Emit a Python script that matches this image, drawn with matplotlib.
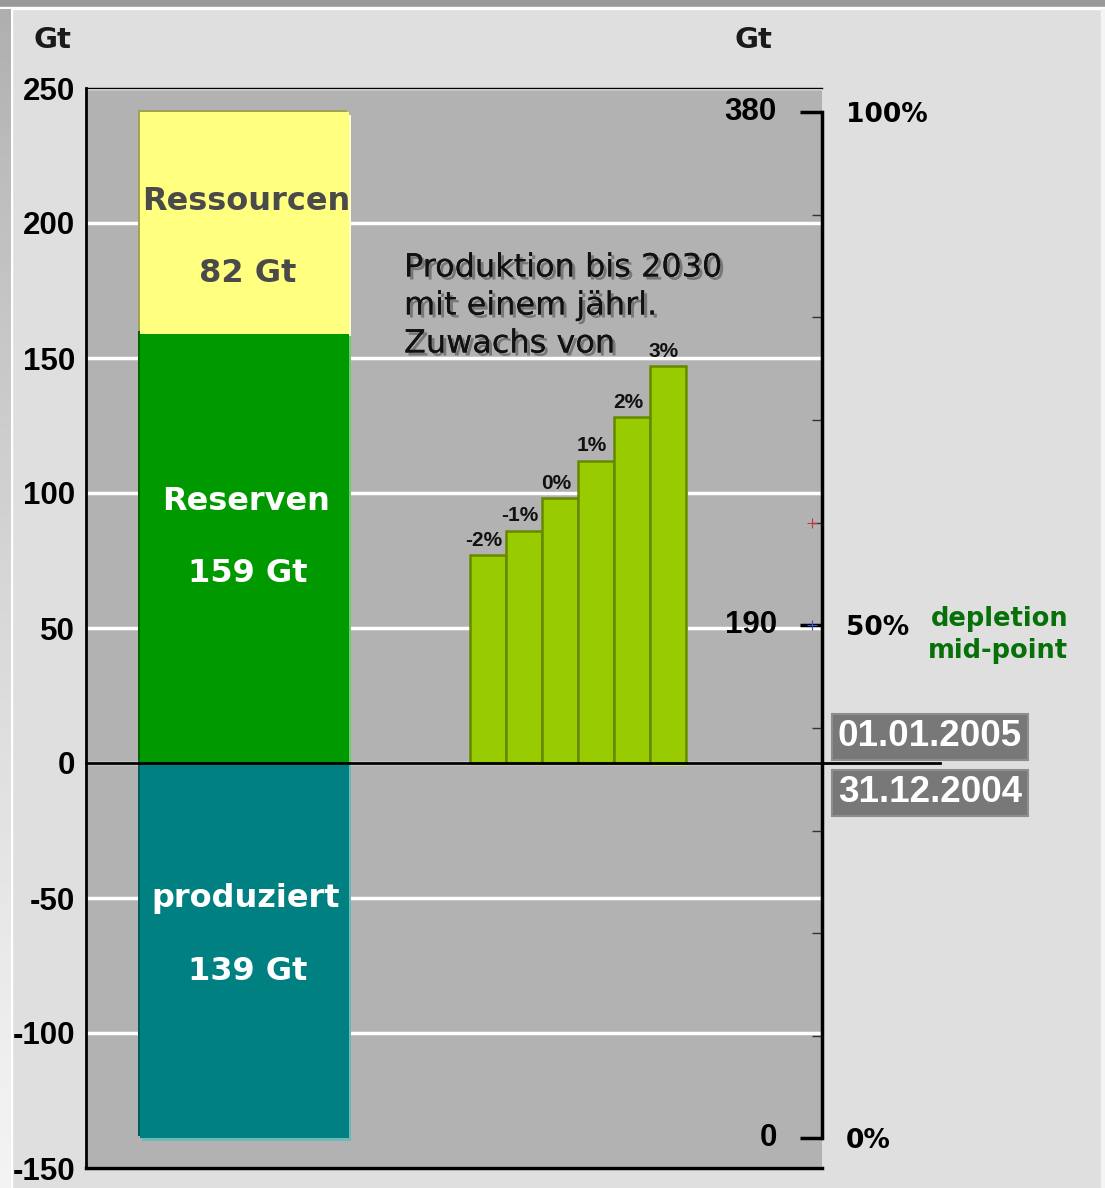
import matplotlib
matplotlib.use("Agg")
import matplotlib.pyplot as plt
import matplotlib.patheffects as pe
from matplotlib.patches import Rectangle
import numpy as np

plt.rcParams['axes.unicode_minus'] = False

# Stock of the field (Gt): already produced, proven reserves, further resources
stock_names = ['produziert', 'Reserven', 'Ressourcen']
stock_values = [139, 159, 82]
stock_colors = ['#008080', '#009900', '#ffff80']
stock_dark = ['#005e5e', '#006400', '#a3a355']
stock_light = ['#6fb8b8', '#70cc70', '#ffffc8']
stock_text = ['white', 'white', '#4a4a4a']

# Cumulative production 2005-2030 for different annual growth rates (Gt)
growth_labels = ['-2%', '-1%', '0%', '1%', '2%', '3%']
production_2030 = [77, 86, 98, 112, 128, 147]

left_ticks = [-150, -100, -50, 0, 50, 100, 150, 200, 250]
total = sum(stock_values)
right_major = [0, total / 2, total]
right_major_labels = ['0%', '50%', '100%']

W, H = 1105, 1188


def fx(x):
    return x / W


def fy(y):
    return 1 - y / H


fig = plt.figure(figsize=(W / 100, H / 100), dpi=100, facecolor='#dfdfdf')

# window frame: dark strip on top, gradient strip on the left
fig.add_artist(Rectangle((0, fy(7)), 1, 7 / H, transform=fig.transFigure,
                         color='#9a9a9a', zorder=0))
fig.add_artist(Rectangle((0, fy(9)), 1, 2 / H, transform=fig.transFigure,
                         color='white', zorder=0))
strip = fig.add_axes([0, 0, fx(10), 1 - 9 / H])
strip.imshow(np.linspace(0, 1, 256).reshape(-1, 1), aspect='auto',
             cmap='Greys_r', vmin=-1.8, vmax=1.3)
strip.axis('off')
fig.add_artist(Rectangle((fx(10), 0), 2 / W, 1 - 9 / H, transform=fig.transFigure,
                         color='white', zorder=0))
fig.add_artist(Rectangle((fx(1101), 0), 4 / W, 1 - 9 / H, transform=fig.transFigure,
                         color='#f4f4f4', zorder=0))

ax = fig.add_axes([fx(86), 20 / H, 736 / W, 1080 / H])
ax.set_facecolor('#b2b2b2')
ax.set_xlim(0, 736)
ax.set_ylim(-150, 250)
ax.set_axisbelow(True)
ax.yaxis.grid(True, color='white', lw=2.5)
ax.set_xticks([])
ax.set_yticks(left_ticks)
ax.tick_params(axis='y', length=0, pad=8)
for lab in ax.get_yticklabels():
    lab.set_fontfamily('Liberation Sans')
    lab.set_fontweight('bold')
    lab.set_fontsize(22.5)
ax.spines['right'].set_visible(False)
ax.spines['left'].set_linewidth(2)
ax.spines['bottom'].set_linewidth(2.5)
ax.spines['top'].set_linewidth(1)

# stacked column: produced below zero, reserves and resources above
bar_x, bar_w = 158.5, 209
bottoms = [-stock_values[0], 0, stock_values[1]]
for val, b, c, dk, lt in zip(stock_values, bottoms, stock_colors, stock_dark, stock_light):
    ax.bar(bar_x - 2.5, val, bar_w, bottom=b + 1, color=dk, zorder=2)
    ax.bar(bar_x + 2, val, bar_w, bottom=b - 1, color=lt, zorder=2)
    ax.bar(bar_x, val, bar_w, bottom=b, color=c, zorder=3)

label_rows = [(899, 971), (501, 574), (201, 273)]
for name, val, col, (y1, y2) in zip(stock_names, stock_values, stock_text, label_rows):
    fig.text(fx(246), fy(y1), name, ha='center', va='center', color=col,
             fontsize=23, fontweight='bold', family='DejaVu Sans', zorder=10)
    fig.text(fx(248), fy(y2), f'{val} Gt', ha='center', va='center', color=col,
             fontsize=23, fontweight='bold', family='DejaVu Sans', zorder=10)

# production scenarios
prod_x = 402 + 36 * np.arange(len(production_2030))
ax.bar(prod_x[-1] + 2, production_2030[-1], 36, bottom=-1, color='#c8e36a', zorder=2)
ax.bar(prod_x, production_2030, 36, color='#99cc00', edgecolor='#668800',
       lw=1.8, zorder=3)
for x, v, lab in zip(prod_x, production_2030, growth_labels):
    ax.annotate(lab, (x, v), xytext=(-3, 4), textcoords='offset points',
                ha='center', va='bottom', fontsize=15, fontweight='bold',
                family='Liberation Sans', color='#111111')

ax.axhline(0, xmin=0, xmax=(940 - 86) / 736, color='black', lw=2,
           clip_on=False, zorder=6)

shadow = [pe.withSimplePatchShadow(offset=(2.2, -2.2), shadow_rgbFace='#777777', alpha=1),
          pe.Normal()]
for y, line in zip([268, 306, 344], ['Produktion bis 2030', 'mit einem jährl.', 'Zuwachs von']):
    fig.text(fx(404), fy(y), line, ha='left', va='center', fontsize=23,
             family='DejaVu Sans', color='#111111', path_effects=shadow, zorder=10)

# right axis: cumulative amount from the beginning of production
ax2 = ax.twinx()
lo, hi = ax.get_ylim()
ax2.set_ylim(lo + stock_values[0], hi + stock_values[0])
for s in ['left', 'top', 'bottom']:
    ax2.spines[s].set_visible(False)
ax2.spines['right'].set_bounds(0, total)
ax2.spines['right'].set_linewidth(2.5)
ax2.set_yticks(right_major)
ax2.set_yticklabels(right_major_labels)
ax2.set_yticks([v for v in np.arange(0, total + 1, total / 10) if v not in right_major],
               minor=True)
ax2.tick_params(axis='y', which='major', direction='in', length=16, width=2.5, pad=17)
ax2.tick_params(axis='y', which='minor', direction='in', length=7, width=1,
                color='#333333')
for lab in ax2.get_yticklabels():
    lab.set_fontfamily('DejaVu Sans')
    lab.set_fontweight('bold')
    lab.set_fontsize(19)
for v in right_major:
    ax2.text((777 - 86) / 736, v, f'{v:.0f}', transform=ax2.get_yaxis_transform(),
             ha='right', va='center', fontsize=22.5, fontweight='bold',
             family='Liberation Sans')
ax2.plot([(812 - 86) / 736], [total * 0.6], '+', color='#cc3333', ms=7, mew=0.8,
         transform=ax2.get_yaxis_transform(), clip_on=False)
ax2.plot([(812 - 86) / 736], [total * 0.5], '+', color='#3355cc', ms=7, mew=0.8,
         transform=ax2.get_yaxis_transform(), clip_on=False)

fig.text(fx(1068), fy(619), 'depletion', ha='right', va='center', fontsize=18.5,
         fontweight='bold', family='DejaVu Sans', color='#087008')
fig.text(fx(1068), fy(651), 'mid-point', ha='right', va='center', fontsize=18.5,
         fontweight='bold', family='DejaVu Sans', color='#087008')

for y, d in [(737, '01.01.2005'), (793, '31.12.2004')]:
    fig.text(fx(930), fy(y), d, ha='center', va='center', fontsize=26.5,
             fontweight='bold', family='Liberation Sans', color='white',
             bbox=dict(boxstyle='square,pad=0.16', fc='#787878', ec='#8e8e8e', lw=1.5))

fig.text(fx(52), fy(40), 'Gt', ha='center', va='center', fontsize=21,
         fontweight='bold', family='DejaVu Sans', color='#1a1a1a')
fig.text(fx(753), fy(40), 'Gt', ha='center', va='center', fontsize=21,
         fontweight='bold', family='DejaVu Sans', color='#1a1a1a')

fig.savefig('out.png', dpi=100, facecolor=fig.get_facecolor())
